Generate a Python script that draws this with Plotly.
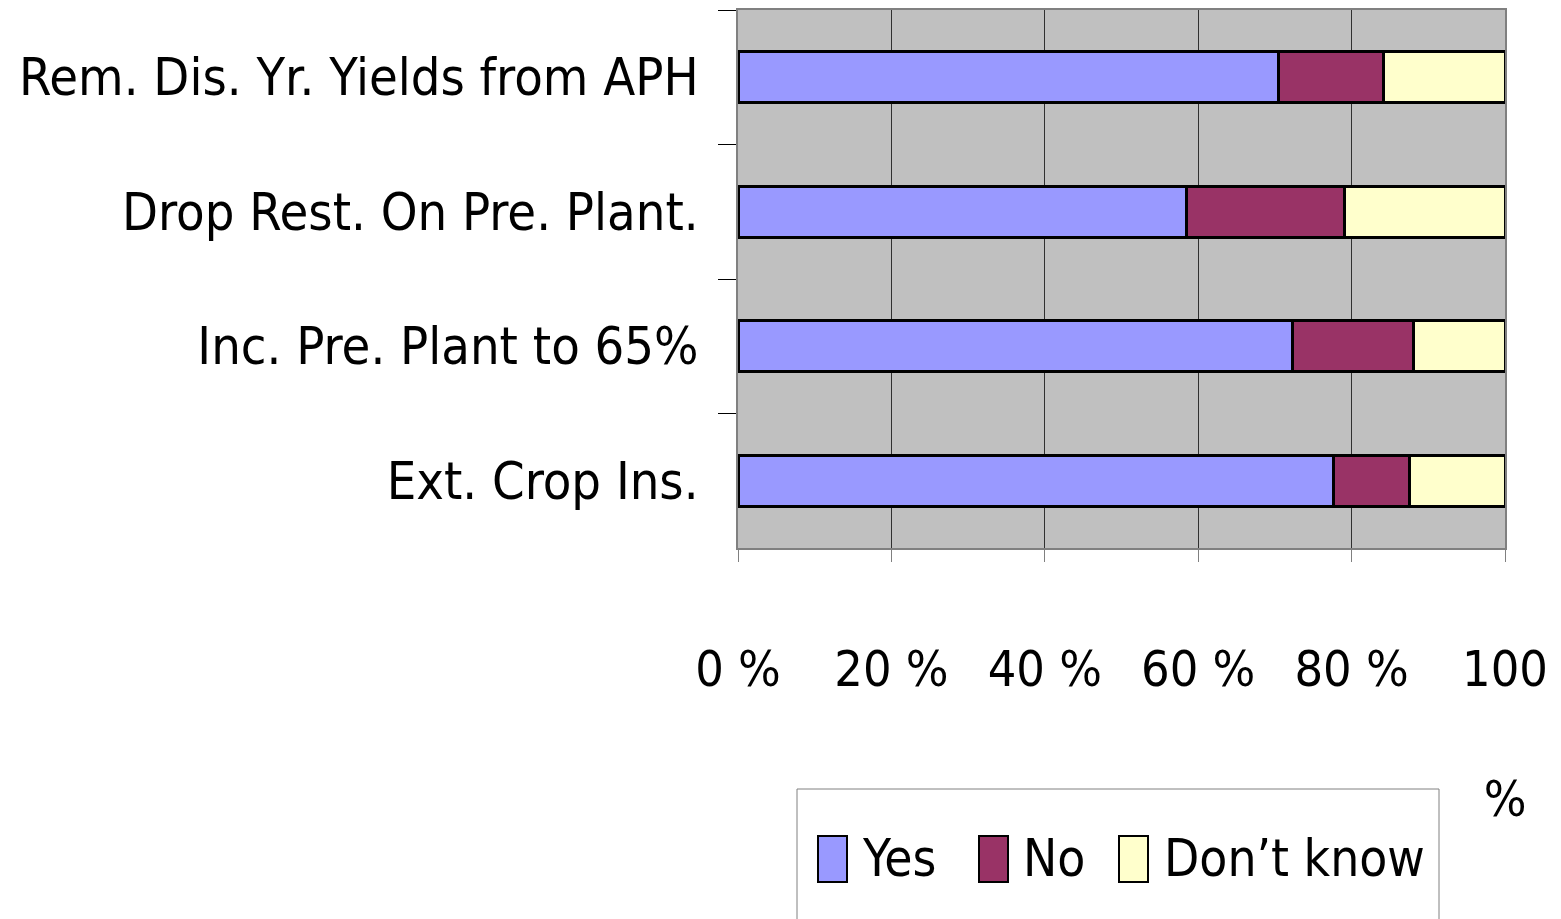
import plotly.graph_objects as go

categories = ["Rem. Dis. Yr. Yields from APH", "Drop Rest. On Pre. Plant.",
              "Inc. Pre. Plant to 65%", "Ext. Crop Ins."]
series_names = ["Yes", "No", "Don\u2019t know"]
yes_vals = [70.5, 58.5, 72.3, 77.7]
no_vals = [13.7, 20.6, 15.8, 9.8]
dk_vals = [15.8, 20.9, 11.9, 12.5]
colors = ["#9999FF", "#993366", "#FFFFCC"]
tick_vals = [0, 20, 40, 60, 80, 100]
tick_text = ["0 %", "20 %", "40 %", "60 %", "80 %", "100<br><br>%"]

FONT = "DejaVu Sans Condensed, Liberation Sans Narrow, sans-serif"

fig = go.Figure()
for name, vals, col in zip(series_names, [yes_vals, no_vals, dk_vals], colors):
    fig.add_trace(go.Bar(
        y=categories, x=vals, name=name, orientation="h",
        marker=dict(color=col, line=dict(color="black", width=3)),
        width=0.38, showlegend=False,
    ))

# page has an 8px body margin; compensate so the plot sits where the original does
W, H = 1553, 911
L, R, T = 730, 56, 2
B = H - 540
fig.update_layout(
    width=W, height=H, barmode="stack",
    margin=dict(l=L, r=R, t=T, b=B, autoexpand=False),
    paper_bgcolor="white", plot_bgcolor="#C0C0C0",
    font=dict(family=FONT, color="black", size=50),
)
fig.update_xaxes(
    range=[0, 100], tickvals=tick_vals, ticktext=tick_text,
    showgrid=True, gridcolor="#303030", gridwidth=1,
    showline=True, linecolor="#808080", linewidth=2, mirror=True,
    ticks="outside", ticklen=12, tickcolor="#808080", tickwidth=1,
    ticklabelstandoff=64, tickfont=dict(size=50, family=FONT),
    zeroline=False,
)
fig.update_yaxes(
    autorange="reversed", tickson="boundaries",
    showline=True, linecolor="#808080", linewidth=2, mirror=True,
    ticks="outside", ticklen=18, tickcolor="black", tickwidth=1,
    ticklabelstandoff=27, tickfont=dict(size=52, family=FONT),
    showgrid=False,
)

# Legend drawn manually (large swatches like the original); helpers map
# page pixels to paper coordinates of the plot area (738..1505, 10..548)
def px_x(p):
    return (p - 738) / 767
def px_y(p):
    return (548 - p) / 538

fig.add_shape(type="rect", xref="paper", yref="paper",
              x0=px_x(797), x1=px_x(1439), y0=px_y(930), y1=px_y(789),
              line=dict(color="#808080", width=1), fillcolor="white", layer="above")
sw_x = [818, 979, 1119]
tx_x = [860, 1021, 1162]
for i, name in enumerate(series_names):
    fig.add_shape(type="rect", xref="paper", yref="paper",
                  x0=px_x(sw_x[i]), x1=px_x(sw_x[i] + 29),
                  y0=px_y(882), y1=px_y(836),
                  line=dict(color="black", width=2), fillcolor=colors[i], layer="above")
    fig.add_annotation(xref="paper", yref="paper", x=px_x(tx_x[i]), y=px_y(858),
                       xanchor="left", yanchor="middle", showarrow=False,
                       text=name, font=dict(size=51, family=FONT, color="black"))

fig.write_html("out.html")
